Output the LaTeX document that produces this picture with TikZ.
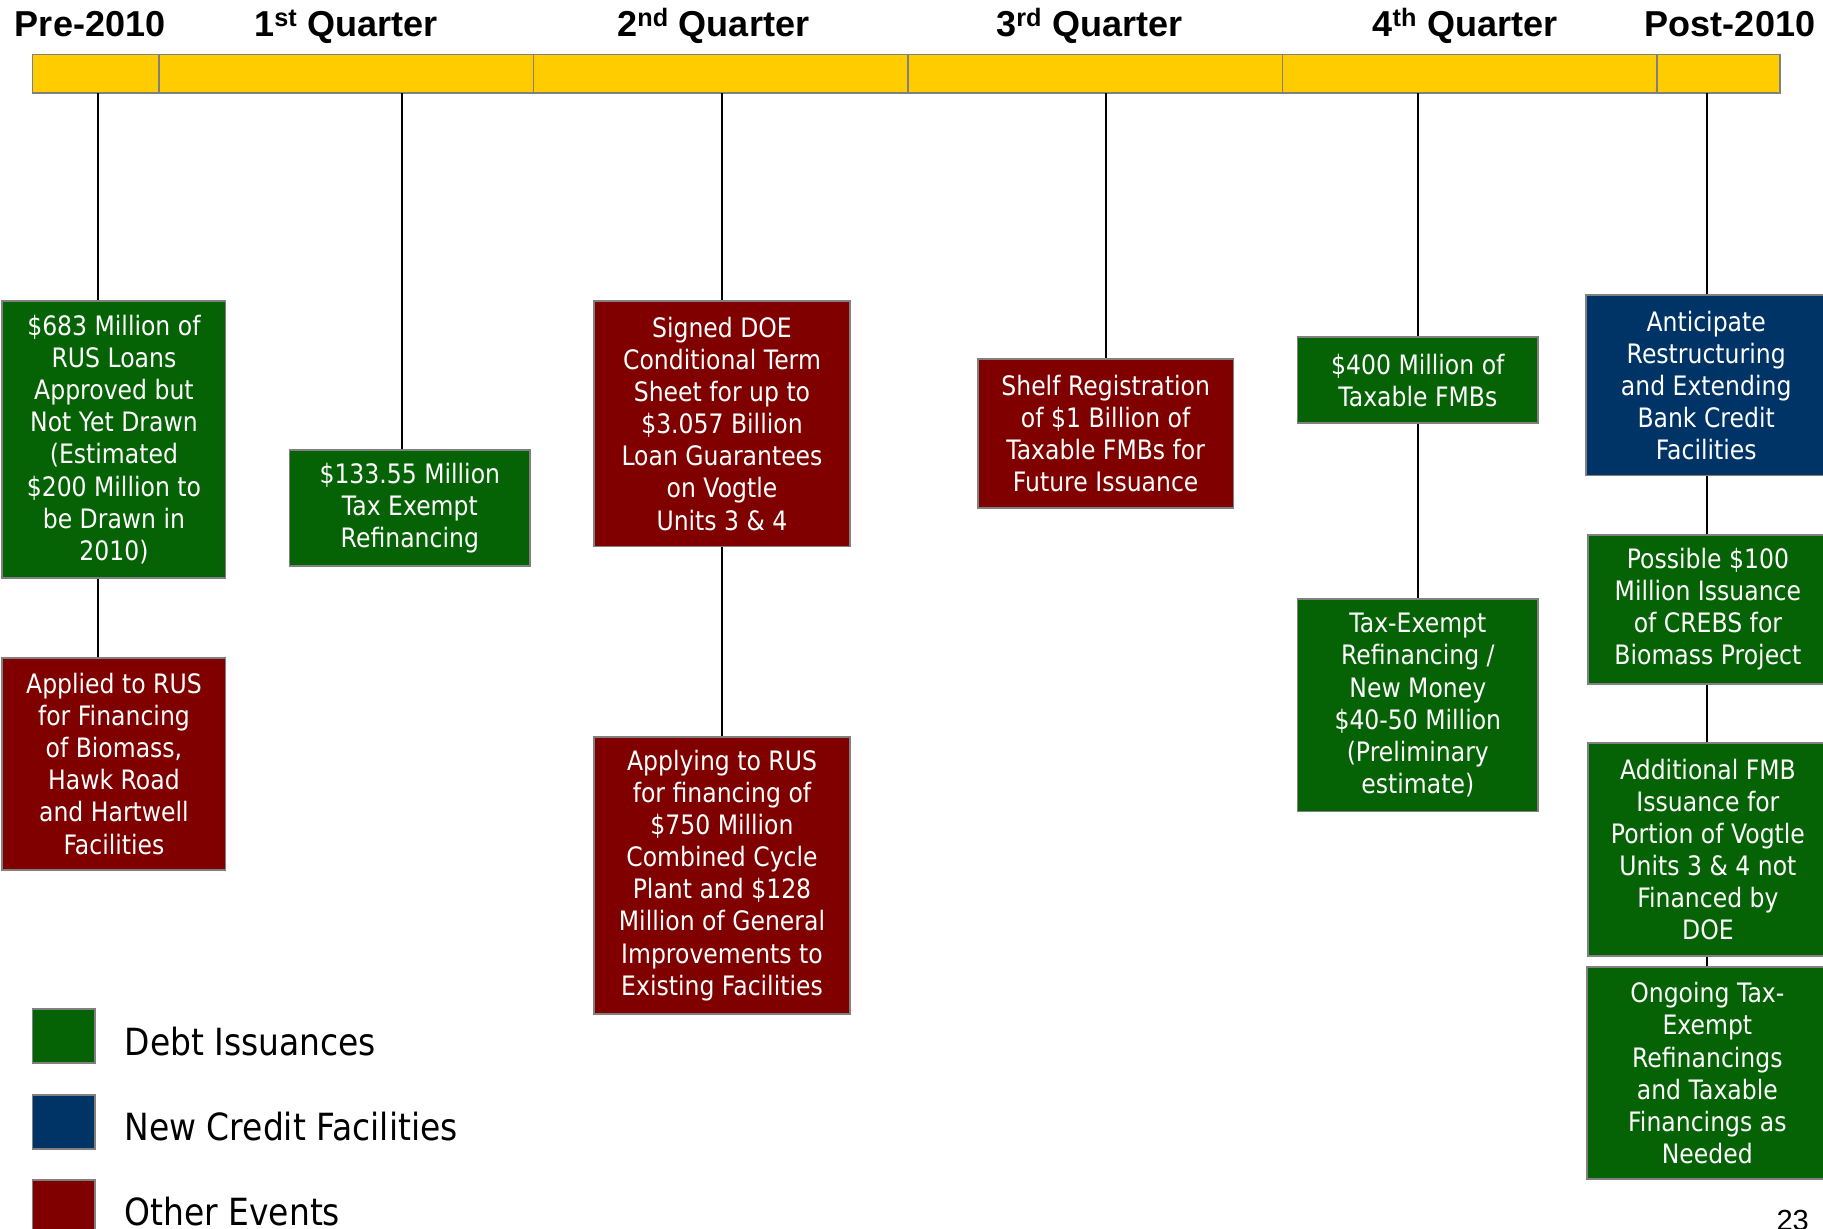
\documentclass[tikz,border=0pt]{standalone}
\usepackage{fontspec}
\newfontfamily\boxfont[FakeStretch=0.88]{DejaVu Sans}
\newfontfamily\hdrfont{Liberation Sans}
\definecolor{dgreen}{RGB}{5,99,5}
\definecolor{dred}{RGB}{128,0,0}
\definecolor{dblue}{RGB}{0,51,102}
\definecolor{gold}{RGB}{255,204,0}
\definecolor{bgray}{RGB}{128,128,128}
\begin{document}
\begin{tikzpicture}[x=1pt,y=-1pt,
  evt/.style={draw=bgray, line width=1.6pt, text=white, align=center, inner sep=0pt,
    font=\fontsize{23}{27.6}\selectfont\boxfont},
  debtbox/.style={evt, fill=dgreen},
  otherbox/.style={evt, fill=dred},
  creditbox/.style={evt, fill=dblue},
  seg/.style={draw=bgray, line width=1.4pt, fill=gold, minimum height=33pt, inner sep=0pt},
  hdr/.style={anchor=base, inner sep=0pt, font=\fontsize{31}{36}\selectfont\hdrfont\bfseries},
  conn/.style={draw=black, line width=1.6pt},
  legsq/.style={draw=bgray, line width=1.6pt, minimum width=54pt, minimum height=46pt, inner sep=0pt},
  legtxt/.style={anchor=base west, inner sep=0pt, font=\fontsize{32.2}{36}\selectfont\boxfont}
]
\useasboundingbox (0,0) rectangle (1568,1057);
\fill[white] (0,0) rectangle (1568,1057);

% headers
\node[hdr] (h0) at (77.5,31.5) {Pre-2010};
\node[hdr] (h1) at (297.5,31.5) {1\textsuperscript{st} Quarter};
\node[hdr] (h2) at (613.5,31.5) {2\textsuperscript{nd} Quarter};
\node[hdr] (h3) at (937,31.5) {3\textsuperscript{rd} Quarter};
\node[hdr] (h4) at (1260,31.5) {4\textsuperscript{th} Quarter};
\node[hdr] (h5) at (1488,31.5) {Post-2010};

% timeline bar
\node[seg, minimum width=109pt] (s0) at (82.5,63.5) {};
\node[seg, minimum width=322pt] (s1) at (298,63.5) {};
\node[seg, minimum width=322pt] (s2) at (620,63.5) {};
\node[seg, minimum width=322pt] (s3) at (942,63.5) {};
\node[seg, minimum width=322pt] (s4) at (1264,63.5) {};
\node[seg, minimum width=106pt] (s5) at (1478,63.5) {};

\coordinate (d0) at (84,80);
\coordinate (d1) at (346,80);
\coordinate (d2) at (621,80);
\coordinate (d3) at (951,80);
\coordinate (d4) at (1220,80);
\coordinate (d5) at (1468,80);

% boxes
\node[debtbox, minimum width=192pt, minimum height=238pt] (A) at (98,378)
  {\$683 Million of\\RUS Loans\\Approved but\\Not Yet Drawn\\(Estimated\\\$200 Million to\\be Drawn in\\2010)};
\node[otherbox, minimum width=192pt, minimum height=182pt] (B) at (98,657)
  {Applied to RUS\\for Financing\\of Biomass,\\Hawk Road\\and Hartwell\\Facilities};
\node[debtbox, minimum width=207pt, minimum height=100pt] (C) at (352.5,437)
  {\$133.55 Million\\Tax Exempt\\Refinancing};
\node[otherbox, minimum width=220pt, minimum height=211pt] (D) at (621,364.5)
  {Signed DOE\\Conditional Term\\Sheet for up to\\\$3.057 Billion\\Loan Guarantees\\on Vogtle\\Units 3 \& 4};
\node[otherbox, minimum width=220pt, minimum height=238pt] (E) at (621,753)
  {Applying to RUS\\for financing of\\\$750 Million\\Combined Cycle\\Plant and \$128\\Million of General\\Improvements to\\Existing Facilities};
\node[otherbox, minimum width=220pt, minimum height=128pt] (F) at (951,373)
  {Shelf Registration\\of \$1 Billion of\\Taxable FMBs for\\Future Issuance};
\node[debtbox, minimum width=207pt, minimum height=74pt] (G) at (1219.5,327)
  {\$400 Million of\\Taxable FMBs};
\node[debtbox, minimum width=207pt, minimum height=183pt] (H) at (1219.5,606.5)
  {Tax-Exempt\\Refinancing /\\New Money\\\$40-50 Million\\(Preliminary\\estimate)};
\node[creditbox, minimum width=207pt, minimum height=155pt] (I) at (1467.5,331.5)
  {Anticipate\\Restructuring\\and Extending\\Bank Credit\\Facilities};
\node[debtbox, minimum width=206pt, minimum height=128pt] (J) at (1469,524)
  {Possible \$100\\Million Issuance\\of CREBS for\\Biomass Project};
\node[debtbox, minimum width=206pt, minimum height=183pt] (K) at (1469,730.5)
  {Additional FMB\\Issuance for\\Portion of Vogtle\\Units 3 \& 4 not\\Financed by\\DOE};
\node[debtbox, minimum width=207pt, minimum height=182pt] (L) at (1468.5,923)
  {Ongoing Tax-\\Exempt\\Refinancings\\and Taxable\\Financings as\\Needed};

% connectors
\draw[conn] (d0) -- (A.north -| d0);
\draw[conn] (A.south -| d0) -- (B.north -| d0);
\draw[conn] (d1) -- (C.north -| d1);
\draw[conn] (d2) -- (D.north -| d2);
\draw[conn] (D.south -| d2) -- (E.north -| d2);
\draw[conn] (d3) -- (F.north -| d3);
\draw[conn] (d4) -- (G.north -| d4);
\draw[conn] (G.south -| d4) -- (H.north -| d4);
\draw[conn] (d5) -- (I.north -| d5);
\draw[conn] (I.south -| d5) -- (J.north -| d5);
\draw[conn] (J.south -| d5) -- (K.north -| d5);
\draw[conn] (K.south -| d5) -- (L.north -| d5);

% legend
\node[legsq, fill=dgreen] (lg1) at (55,891) {};
\node[legsq, fill=dblue] (lg2) at (55,965) {};
\node[legsq, fill=dred] (lg3) at (55,1038) {};
\node[legtxt] (lt1) at (107,907.5) {Debt Issuances};
\node[legtxt] (lt2) at (107,981) {New Credit Facilities};
\node[legtxt] (lt3) at (107,1054) {Other Events};

% page number
\node[anchor=base east, inner sep=0pt, font=\fontsize{25}{30}\selectfont\hdrfont] (pg) at (1556,1058) {23};
\end{tikzpicture}
\end{document}
